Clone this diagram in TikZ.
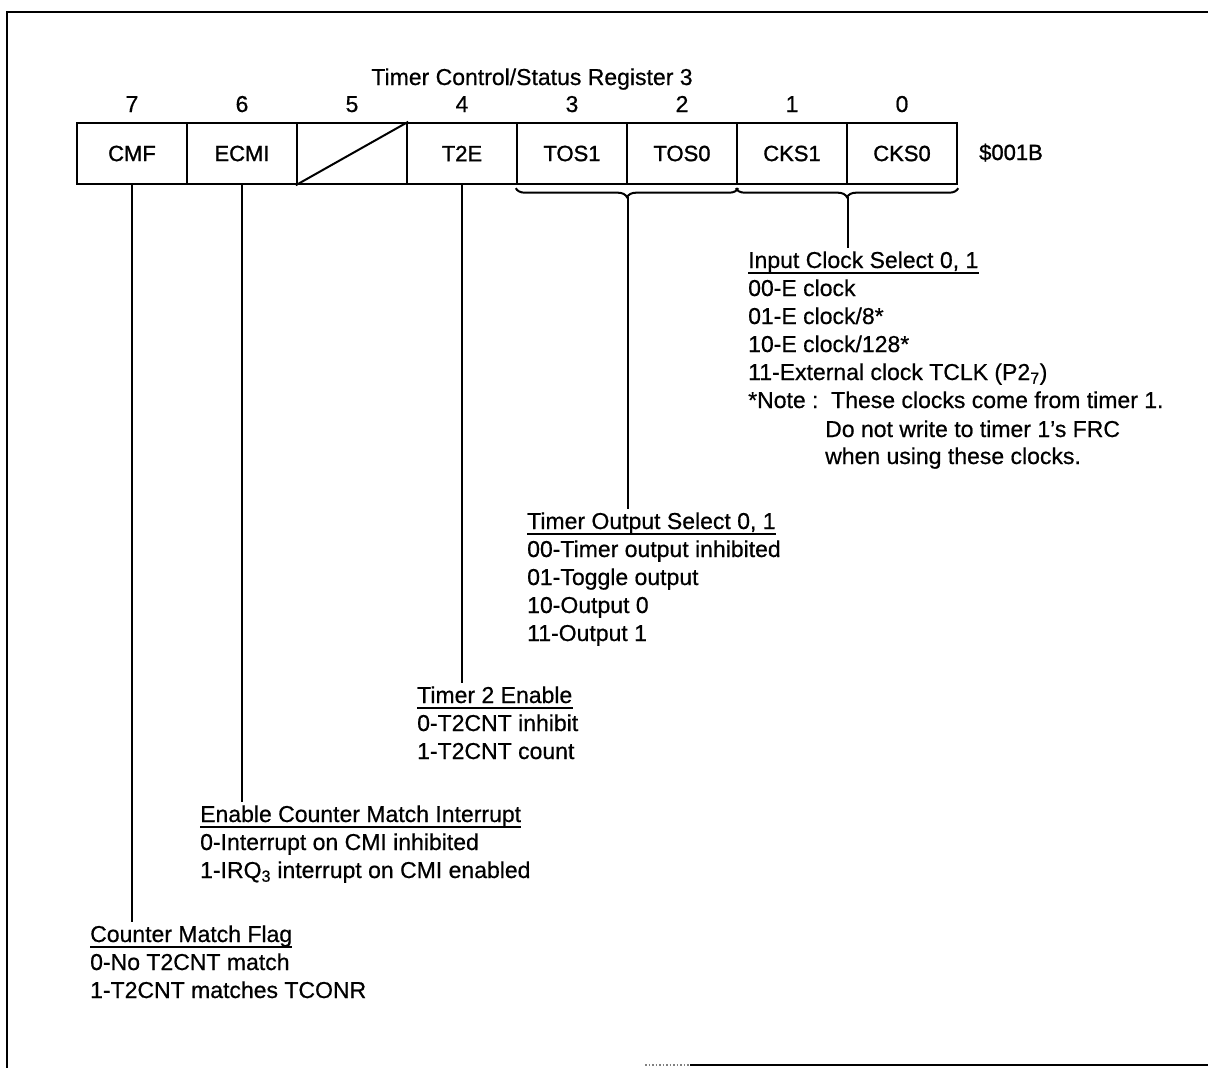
\documentclass[tikz,border=0pt]{standalone}
\usepackage{fontspec}
\setmainfont{Liberation Sans}[FakeBold=0.6]
\newfontfamily\cellfont{Liberation Sans}[FakeBold=1.2]
\usetikzlibrary{decorations.pathreplacing}
\tikzset{
  lbl/.style={inner sep=0pt, anchor=base west, font=\fontsize{23}{28}\selectfont},
  bitno/.style={inner sep=0pt, anchor=base, font=\fontsize{23}{28}\selectfont},
  cell/.style={draw, line width=2.4pt, minimum width=110pt, minimum height=61pt, inner sep=0pt, font=\cellfont\fontsize{22}{25}\selectfont},
  conn/.style={line width=2pt},
  ul/.style={line width=1.6pt},
  brc/.style={decorate, decoration={brace, amplitude=9pt, mirror}, line width=2pt},
  frame/.style={line width=2.5pt},
}
\begin{document}
\begin{tikzpicture}[x=1pt,y=-1pt]
\useasboundingbox (0,0) rectangle (1208,1068);
% frame
\draw[frame] (1208,12) -- (7,12) -- (7,1068);
\draw[frame] (690,1065) -- (1208,1065);
\draw[line width=1.5pt, gray, dotted] (645,1065) -- (690,1065);
% title and bit numbers
\node[bitno] (title) at (532,85) {Timer Control/Status Register 3};
\node[bitno] (n7) at (132,112) {7};
\node[bitno] (n6) at (242,112) {6};
\node[bitno] (n5) at (352,112) {5};
\node[bitno] (n4) at (462,112) {4};
\node[bitno] (n3) at (572,112) {3};
\node[bitno] (n2) at (682,112) {2};
\node[bitno] (n1) at (792,112) {1};
\node[bitno] (n0) at (902,112) {0};
% register cells
\node[cell] (c7) at (132,153.5) {CMF};
\node[cell] (c6) at (242,153.5) {ECMI};
\node[cell] (c5) at (352,153.5) {};
\node[cell] (c4) at (462,153.5) {T2E};
\node[cell] (c3) at (572,153.5) {TOS1};
\node[cell] (c2) at (682,153.5) {TOS0};
\node[cell] (c1) at (792,153.5) {CKS1};
\node[cell] (c0) at (902,153.5) {CKS0};
\draw[line width=2pt] (c5.south west) -- (c5.north east);
\node[lbl, font=\cellfont\fontsize{22}{25}\selectfont] (addr) at (979,160) {\$001B};
% braces
\draw[brc] ([yshift=-3pt]c3.south west) -- ([yshift=-3pt]c2.south east);
\draw[brc] ([yshift=-3pt]c1.south west) -- ([yshift=-3pt]c0.south east);
\coordinate (tos) at ([yshift=-12pt]c3.south east);
\coordinate (cks) at ([yshift=-12pt]c1.south east);
% Input clock select
\node[lbl] (icsT) at (748,268) {Input Clock Select 0, 1};
\node[lbl] (ics0) at (748,296) {00-E clock};
\node[lbl] (ics1) at (748,324) {01-E clock/8*};
\node[lbl] (ics2) at (748,352) {10-E clock/128*};
\node[lbl] (ics3) at (748,380) {11-External clock TCLK (P2\textsubscript{7})};
\node[lbl] (ics4) at (748,408) {*Note :};
\node[lbl] (ics5) at (831,408) {These clocks come from timer 1.};
\node[lbl] (ics6) at (825,437) {Do not write to timer 1's FRC};
\node[lbl] (ics7) at (825,464) {when using these clocks.};
% Timer output select
\node[lbl] (tosT) at (527,529) {Timer Output Select 0, 1};
\node[lbl] (tos0) at (527,557) {00-Timer output inhibited};
\node[lbl] (tos1) at (527,585) {01-Toggle output};
\node[lbl] (tos2) at (527,613) {10-Output 0};
\node[lbl] (tos3) at (527,641) {11-Output 1};
% Timer 2 enable
\node[lbl] (t2eT) at (417,703) {Timer 2 Enable};
\node[lbl] (t2e0) at (417,731) {0-T2CNT inhibit};
\node[lbl] (t2e1) at (417,759) {1-T2CNT count};
% Enable counter match interrupt
\node[lbl] (ecmT) at (200,822) {Enable Counter Match Interrupt};
\node[lbl] (ecm0) at (200,850) {0-Interrupt on CMI inhibited};
\node[lbl] (ecm1) at (200,878) {1-IRQ\textsubscript{3} interrupt on CMI enabled};
% Counter match flag
\node[lbl] (cmfT) at (90,942) {Counter Match Flag};
\node[lbl] (cmf0) at (90,970) {0-No T2CNT match};
\node[lbl] (cmf1) at (90,998) {1-T2CNT matches TCONR};
% underlines
\foreach \t in {icsT,tosT,t2eT,ecmT,cmfT}
  \draw[ul] ([yshift=-5pt]\t.base west) -- ([yshift=-5pt]\t.base east);
% connectors
\draw[conn] (cks) -- ([yshift=3pt]cks |- icsT.north);
\draw[conn] (tos) -- ([yshift=3pt]tos |- tosT.north);
\draw[conn] (c4.south) -- ([yshift=3pt]c4.south |- t2eT.north);
\draw[conn] (c6.south) -- ([yshift=3pt]c6.south |- ecmT.north);
\draw[conn] (c7.south) -- ([yshift=3pt]c7.south |- cmfT.north);
\end{tikzpicture}
\end{document}
